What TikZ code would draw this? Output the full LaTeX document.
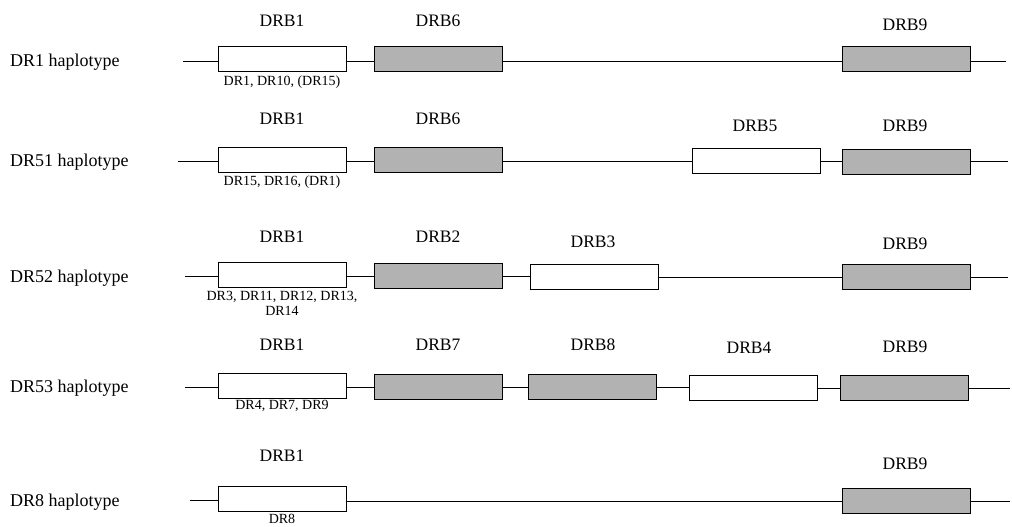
\documentclass[tikz,border=0pt]{standalone}
\usepackage{fontspec}
\setmainfont{Liberation Serif}
\begin{document}
\begin{tikzpicture}[x=1pt,y=-1pt,
  gene/.style={draw=black, line width=1.2pt, minimum width=128pt, minimum height=25pt, inner sep=0pt, anchor=west},
  opengene/.style={gene, fill=white},
  shadegene/.style={gene, fill=black!30},
  chrom/.style={line width=1pt},
  glabel/.style={font=\fontsize{17.5}{19}\selectfont, inner sep=0pt},
  hlabel/.style={font=\fontsize{18}{20}\selectfont, anchor=west, inner sep=0pt},
  alabel/.style={font=\fontsize{14}{15.5}\selectfont, inner sep=0pt, align=center, anchor=north}]
\useasboundingbox (0,0) rectangle (1012,527);

% Row 1
\node[hlabel] (h1) at (10,62) {DR1 haplotype};
\coordinate (s1) at (183,62);
\coordinate (e1) at (1006,62);
\node[opengene] (r1a) at (218,59) {};
\node[shadegene] (r1b) at (374,59) {};
\node[shadegene] (r1c) at (842,59) {};
\draw[chrom] (s1) -- (r1a.west|-s1);
\draw[chrom] (r1a.east|-s1) -- (r1b.west|-s1);
\draw[chrom] (r1b.east|-s1) -- (r1c.west|-s1);
\draw[chrom] (r1c.east|-s1) -- (e1);
\node[glabel] (l1a) at (282,21) {DRB1};
\node[glabel] (l1b) at (438,21) {DRB6};
\node[glabel] (l1c) at (905,25) {DRB9};
\node[alabel] (a1) at (282,76) {DR1, DR10, (DR15)};

% Row 2
\node[hlabel] (h2) at (10,162) {DR51 haplotype};
\coordinate (s2) at (178,161);
\coordinate (e2) at (1008,161);
\node[opengene] (r2a) at (218,160) {};
\node[shadegene] (r2b) at (374,160) {};
\node[opengene] (r2c) at (692,161) {};
\node[shadegene] (r2d) at (842,162) {};
\draw[chrom] (s2) -- (r2a.west|-s2);
\draw[chrom] (r2a.east|-s2) -- (r2b.west|-s2);
\draw[chrom] (r2b.east|-s2) -- (r2c.west|-s2);
\draw[chrom] (r2c.east|-s2) -- (r2d.west|-s2);
\draw[chrom] (r2d.east|-s2) -- (e2);
\node[glabel] (l2a) at (282,119) {DRB1};
\node[glabel] (l2b) at (438,119) {DRB6};
\node[glabel] (l2c) at (755,126) {DRB5};
\node[glabel] (l2d) at (905,126) {DRB9};
\node[alabel] (a2) at (282,176) {DR15, DR16, (DR1)};

% Row 3
\node[hlabel] (h3) at (10,278) {DR52 haplotype};
\coordinate (s3) at (185,276);
\coordinate (e3) at (1008,277);
\node[opengene] (r3a) at (218,275) {};
\node[shadegene] (r3b) at (374,276) {};
\node[opengene] (r3c) at (530,277) {};
\node[shadegene] (r3d) at (842,277) {};
\draw[chrom] (s3) -- (r3a.west|-s3);
\draw[chrom] (r3a.east|-s3) -- (r3b.west|-s3);
\draw[chrom] (r3b.east|-s3) -- (r3c.west|-s3);
\draw[chrom] (r3c.east|-e3) -- (r3d.west|-e3);
\draw[chrom] (r3d.east|-e3) -- (e3);
\node[glabel] (l3a) at (282,237) {DRB1};
\node[glabel] (l3b) at (438,237) {DRB2};
\node[glabel] (l3c) at (593,242) {DRB3};
\node[glabel] (l3d) at (905,244) {DRB9};
\node[alabel] (a3) at (282,291) {DR3, DR11, DR12, DR13,\\DR14};

% Row 4
\node[hlabel] (h4) at (10,388) {DR53 haplotype};
\coordinate (s4) at (185,387);
\coordinate (e4) at (1010,388);
\node[opengene] (r4a) at (218,386) {};
\node[shadegene] (r4b) at (374,387) {};
\node[shadegene] (r4c) at (528,387) {};
\node[opengene] (r4d) at (689,388) {};
\node[shadegene] (r4e) at (840,388) {};
\draw[chrom] (s4) -- (r4a.west|-s4);
\draw[chrom] (r4a.east|-s4) -- (r4b.west|-s4);
\draw[chrom] (r4b.east|-s4) -- (r4c.west|-s4);
\draw[chrom] (r4c.east|-s4) -- (r4d.west|-s4);
\draw[chrom] (r4d.east|-e4) -- (r4e.west|-e4);
\draw[chrom] (r4e.east|-e4) -- (e4);
\node[glabel] (l4a) at (282,345) {DRB1};
\node[glabel] (l4b) at (438,345) {DRB7};
\node[glabel] (l4c) at (593,345) {DRB8};
\node[glabel] (l4d) at (749,348) {DRB4};
\node[glabel] (l4e) at (905,347) {DRB9};
\node[alabel] (a4) at (282,400) {DR4, DR7, DR9};

% Row 5
\node[hlabel] (h5) at (10,502) {DR8 haplotype};
\coordinate (s5) at (190,500);
\coordinate (e5) at (1010,501);
\node[opengene] (r5a) at (218,499) {};
\node[shadegene] (r5b) at (842,501) {};
\draw[chrom] (s5) -- (r5a.west|-s5);
\draw[chrom] (r5a.east|-e5) -- (r5b.west|-e5);
\draw[chrom] (r5b.east|-e5) -- (e5);
\node[glabel] (l5a) at (282,456) {DRB1};
\node[glabel] (l5b) at (905,464) {DRB9};
\node[alabel] (a5) at (282,514) {DR8};
\end{tikzpicture}
\end{document}
